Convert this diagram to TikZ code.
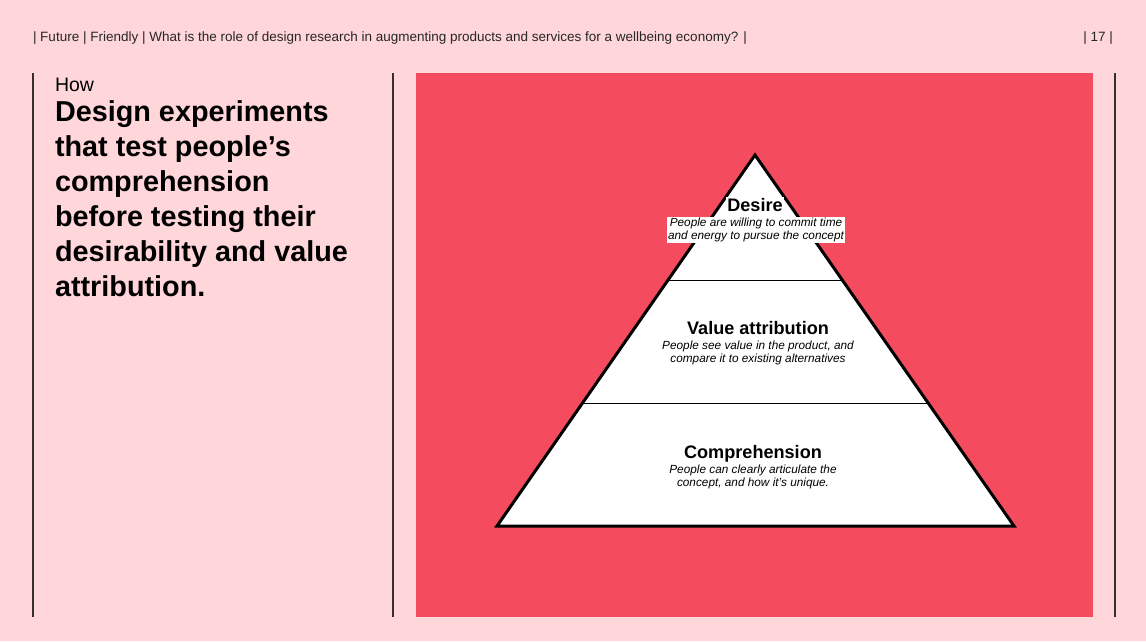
\documentclass[tikz,border=0pt]{standalone}
\usepackage{fontspec}
\setmainfont{Liberation Sans}
\usetikzlibrary{positioning, calc}

\begin{document}
\begin{tikzpicture}[
    x=1pt, y=-1pt,
    every node/.style={inner sep=0pt, outer sep=0pt},
]
% Colors
\definecolor{pagepink}{RGB}{255,214,218}
\definecolor{panelred}{RGB}{245,75,94}
\definecolor{rulegray}{RGB}{55,45,45}
% ============================================================
% Styles
% ============================================================
\tikzset{
    header/.style={font=\fontsize{13.5}{15}\selectfont, text=black!85},
    rulebar/.style={draw=rulegray, line width=1.4pt},
    tiertitle/.style={font=\fontsize{18.1}{20}\selectfont\bfseries, align=center},
    tiernote/.style={font=\fontsize{11.8}{13}\selectfont\itshape, align=center},
    tierline/.style={draw=black, line width=0.9pt},
}
% ============================================================
% Page and panel
% ============================================================
\fill[pagepink] (0,0) rectangle (1146,641);
\useasboundingbox (0,0) rectangle (1146,641);
\fill[panelred] (416,73) rectangle (1093,617);

% --- Header line ---
\node[header, anchor=base west] (head) at (33,41)
    {| Future | Friendly | What is the role of design research in augmenting products and services for a wellbeing economy? |};
\node[header, anchor=base east] (page) at (1113,41) {| 17 |};

% --- Column rules ---
\coordinate (r1t) at (33,73);   \coordinate (r1b) at (33,617);
\coordinate (r2t) at (393,73);  \coordinate (r2b) at (393,617);
\coordinate (r3t) at (1115,73); \coordinate (r3b) at (1115,617);
\foreach \t/\b in {r1t/r1b, r2t/r2b, r3t/r3b} {
    \draw[rulebar] (\t) -- (\b);
}

% ============================================================
% Left column text
% ============================================================
\node[anchor=base west, font=\fontsize{19.5}{22}\selectfont] (how) at (55,91) {How};
\node[anchor=north west, font=\fontsize{28.8}{35}\selectfont\bfseries, align=left] (claim) at (55,101)
    {Design experiments\\that test people’s\\comprehension\\before testing their\\desirability and value\\attribution.};

% ============================================================
% Pyramid
% ============================================================
\coordinate (apex) at (755,155);
\coordinate (baseL) at (497,526);
\coordinate (baseR) at (1014,526);
\coordinate (cutAL) at ($(apex)!125/371!(baseL)$);
\coordinate (cutAR) at ($(apex)!125/371!(baseR)$);
\coordinate (cutBL) at ($(apex)!248/371!(baseL)$);
\coordinate (cutBR) at ($(apex)!248/371!(baseR)$);

\draw[fill=white, line width=3pt, line join=miter] (apex) -- (baseR) -- (baseL) -- cycle;
\draw[tierline] (cutAL) -- (cutAR);
\draw[tierline] (cutBL) -- (cutBR);

% Tier 1: Desire
\node[tiertitle, anchor=base, fill=white, inner sep=1pt] (desire) at (755,211) {Desire};
\node[tiernote, anchor=north, fill=white, inner sep=1pt] (desireNote) at (756,216.5)
    {People are willing to commit time\\and energy to pursue the concept};
% Tier 2: Value attribution
\node[tiertitle, anchor=base] (value) at (758,334) {Value attribution};
\node[tiernote, anchor=north] (valueNote) at (758,340.5)
    {People see value in the product, and\\compare it to existing alternatives};
% Tier 3: Comprehension
\node[tiertitle, anchor=base] (compr) at (753,458) {Comprehension};
\node[tiernote, anchor=north] (comprNote) at (753,464.5)
    {People can clearly articulate the\\concept, and how it’s unique.};
\end{tikzpicture}
\end{document}
